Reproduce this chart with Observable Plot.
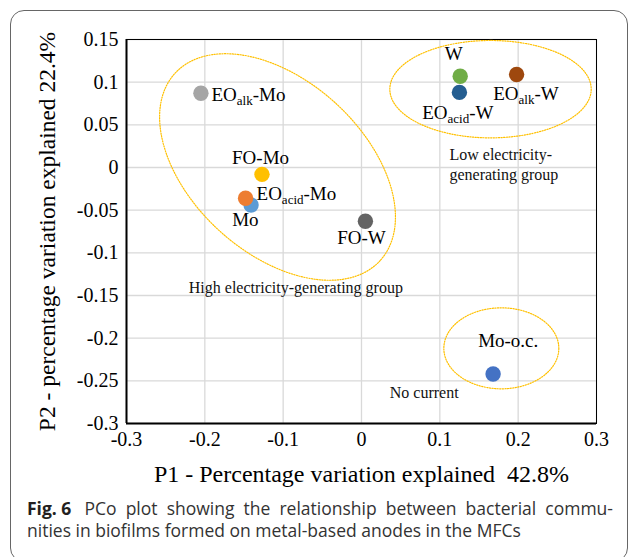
<!DOCTYPE html>
<html><head><meta charset="utf-8">
<script src="https://cdn.jsdelivr.net/npm/d3@7"></script>
<script src="https://cdn.jsdelivr.net/npm/@observablehq/plot@0.6"></script>
<style>
html,body{margin:0;padding:0;background:#fff;}
#page{position:relative;width:630px;height:557px;overflow:hidden;}
#border{position:absolute;left:10px;top:10px;width:618px;height:552px;border:1.5px solid #666;border-radius:14px;box-sizing:border-box;}
#chart{position:absolute;left:0;top:0;}
#caption{position:absolute;left:27px;top:497px;width:586px;font-family:'Open Sans',sans-serif;font-size:17.5px;line-height:22px;color:#333;}
#caption div{white-space:nowrap;}
#caption .l1{text-align:justify;text-align-last:justify;white-space:normal;}
#caption b{color:#231f20;display:inline-block;white-space:pre;margin-right:4px;}
</style></head>
<body><div id="page"><div id="border"></div><div id="chart"></div><div id="caption"></div></div>
<script>
// Sample scores (drawing order: Mo drawn under EO_acid-Mo)
const samples = ["EO_{alk}-Mo", "FO-Mo", "Mo", "EO_{acid}-Mo", "FO-W", "W", "EO_{acid}-W", "EO_{alk}-W", "Mo-o.c."];
const p1 = [-0.205, -0.127, -0.141, -0.148, 0.005, 0.126, 0.125, 0.198, 0.168];
const p2 = [0.087, -0.008, -0.044, -0.036, -0.063, 0.107, 0.088, 0.109, -0.242];
const colors = ["#a5a5a5", "#ffc000", "#5b9bd5", "#ed7d31", "#636363", "#70ad47", "#255e91", "#9e480e", "#4472c4"];

// Point labels (anchored at baseline, data coordinates)
const labelText = ["EO_{alk}-Mo", "FO-Mo", "EO_{acid}-Mo", "Mo", "FO-W", "W", "EO_{alk}-W", "EO_{acid}-W", "Mo-o.c."];
const labelX = [-0.1915, -0.1289, -0.134, -0.1651, -0.031, 0.1178, 0.1681, 0.0775, 0.1873];
const labelY = [0.0785, 0.0043, -0.0379, -0.068, -0.0894, 0.1254, 0.0793, 0.0571, -0.2106];
const labelAnchor = ["start", "middle", "start", "start", "start", "middle", "start", "start", "middle"];

// Group annotations
const groupText = ["High electricity-generating group", "Low electricity-", "generating group", "No current"];
const groupX = [-0.2205, 0.1123, 0.1123, 0.0361];
const groupY = [-0.1465, 0.009, -0.0144, -0.2703];

// Group ellipses: centre (data), semi-axes (px), rotation (deg)
const ellCx = [-0.1072, 0.1647, 0.1785];
const ellCy = [0.0006, 0.0918, -0.2119];
const ellA = [138.9, 100.7, 57.5];
const ellB = [86.3, 48.7, 40.5];
const ellRot = [42.4, 0, 0];

// Axes
const xTicks = [-0.3, -0.2, -0.1, 0, 0.1, 0.2, 0.3];
const yTicks = [0.15, 0.1, 0.05, 0, -0.05, -0.1, -0.15, -0.2, -0.25, -0.3];
const xTitle = "P1 - Percentage variation explained  42.8%";
const yTitle = "P2 - percentage variation explained 22.4%";
const captionBold = "Fig. 6";
const captionLine1 = " PCo plot showing the relationship between bacterial commu-";
const captionLine2 = "nities in biofilms formed on metal-based anodes in the MFCs";

const W = 630, H = 490, mL = 126, mR = 34, mT = 39, mB = 67;
const kx = (W - mL - mR) / 0.6, ky = (H - mT - mB) / 0.45;

const points = samples.map((s, i) => ({s, x: p1[i], y: p2[i], c: colors[i]}));
const labels = labelText.map((t, i) => ({t, x: labelX[i], y: labelY[i], a: labelAnchor[i]}));
const groups = groupText.map((t, i) => ({t, x: groupX[i], y: groupY[i]}));
const ellData = [];
ellCx.forEach((cx, k) => {
  const th = ellRot[k] * Math.PI / 180;
  for (let j = 0; j <= 180; j++) {
    const t = j / 180 * 2 * Math.PI;
    const px = ellA[k] * Math.cos(th) * Math.cos(t) - ellB[k] * Math.sin(th) * Math.sin(t);
    const py = ellA[k] * Math.sin(th) * Math.cos(t) + ellB[k] * Math.cos(th) * Math.sin(t);
    ellData.push({id: k, x: cx + px / kx, y: ellCy[k] - py / ky});
  }
});
const fmt = d => String(d);

const chart = Plot.plot({
  width: W, height: H,
  marginLeft: mL, marginRight: mR, marginTop: mT, marginBottom: mB,
  style: {fontFamily: "'Liberation Serif', serif", background: "transparent", color: "#000", overflow: "visible"},
  x: {domain: [-0.3, 0.3]},
  y: {domain: [-0.3, 0.15]},
  color: {type: "identity"},
  marks: [
    Plot.gridX(xTicks, {stroke: "#d9d9d9", strokeOpacity: 1, strokeWidth: 1.3}),
    Plot.gridY(yTicks, {stroke: "#d9d9d9", strokeOpacity: 1, strokeWidth: 1.3}),
    Plot.frame({stroke: "#000", strokeWidth: 1}),
    Plot.ruleX([-0.3], {stroke: "#000", strokeWidth: 2}),
    Plot.ruleY([-0.3], {stroke: "#000", strokeWidth: 2}),
    Plot.axisX(xTicks, {tickSize: 0, tickPadding: 8, fontSize: 20, tickFormat: fmt, label: null}),
    Plot.axisY(yTicks, {tickSize: 0, tickPadding: 8, fontSize: 20, tickFormat: fmt, label: null}),
    Plot.line(ellData, {x: "x", y: "y", z: "id", stroke: "#ffc000", strokeWidth: 1.2, strokeDasharray: "1.2 1.4", curve: "linear"}),
    Plot.dot(points, {x: "x", y: "y", r: 7.7, fill: "c", stroke: "none"}),
    Plot.text(labels.filter(d => d.a === "start"), {x: "x", y: "y", text: "t", textAnchor: "start", lineAnchor: "bottom", fontSize: 19, fill: "#000"}),
    Plot.text(labels.filter(d => d.a === "middle"), {x: "x", y: "y", text: "t", textAnchor: "middle", lineAnchor: "bottom", fontSize: 19, fill: "#000"}),
    Plot.text(groups, {x: "x", y: "y", text: "t", textAnchor: "start", lineAnchor: "bottom", fontSize: 16, fill: "#111"}),
    Plot.text([xTitle], {text: d => d, frameAnchor: "bottom", dy: 58.7, textAnchor: "middle", lineAnchor: "bottom", fontSize: 24, fill: "#000"}),
    Plot.text([yTitle], {text: d => d, frameAnchor: "left", rotate: -90, dx: -79, textAnchor: "middle", fontSize: 23.5, fill: "#000"})
  ]
});

// Subscripts: rebuild "A_{sub}B" texts as tspans
chart.querySelectorAll("text").forEach(el => {
  const m = /^(.*?)_\{(.*?)\}(.*)$/.exec(el.textContent);
  if (!m) return;
  el.textContent = "";
  const ns = "http://www.w3.org/2000/svg";
  const a = document.createElementNS(ns, "tspan"); a.textContent = m[1];
  const b = document.createElementNS(ns, "tspan"); b.textContent = m[2];
  b.setAttribute("font-size", "13"); b.setAttribute("dy", "4");
  const c = document.createElementNS(ns, "tspan"); c.textContent = m[3]; c.setAttribute("dy", "-4");
  el.append(a, b, c);
});

document.getElementById("chart").append(chart);
const cap = document.getElementById("caption");
const l1 = document.createElement("div"); l1.className = "l1";
const bEl = document.createElement("b"); bEl.textContent = captionBold;
l1.append(bEl, document.createTextNode(captionLine1));
const l2 = document.createElement("div"); l2.textContent = captionLine2;
cap.append(l1, l2);
</script>
</body></html>
